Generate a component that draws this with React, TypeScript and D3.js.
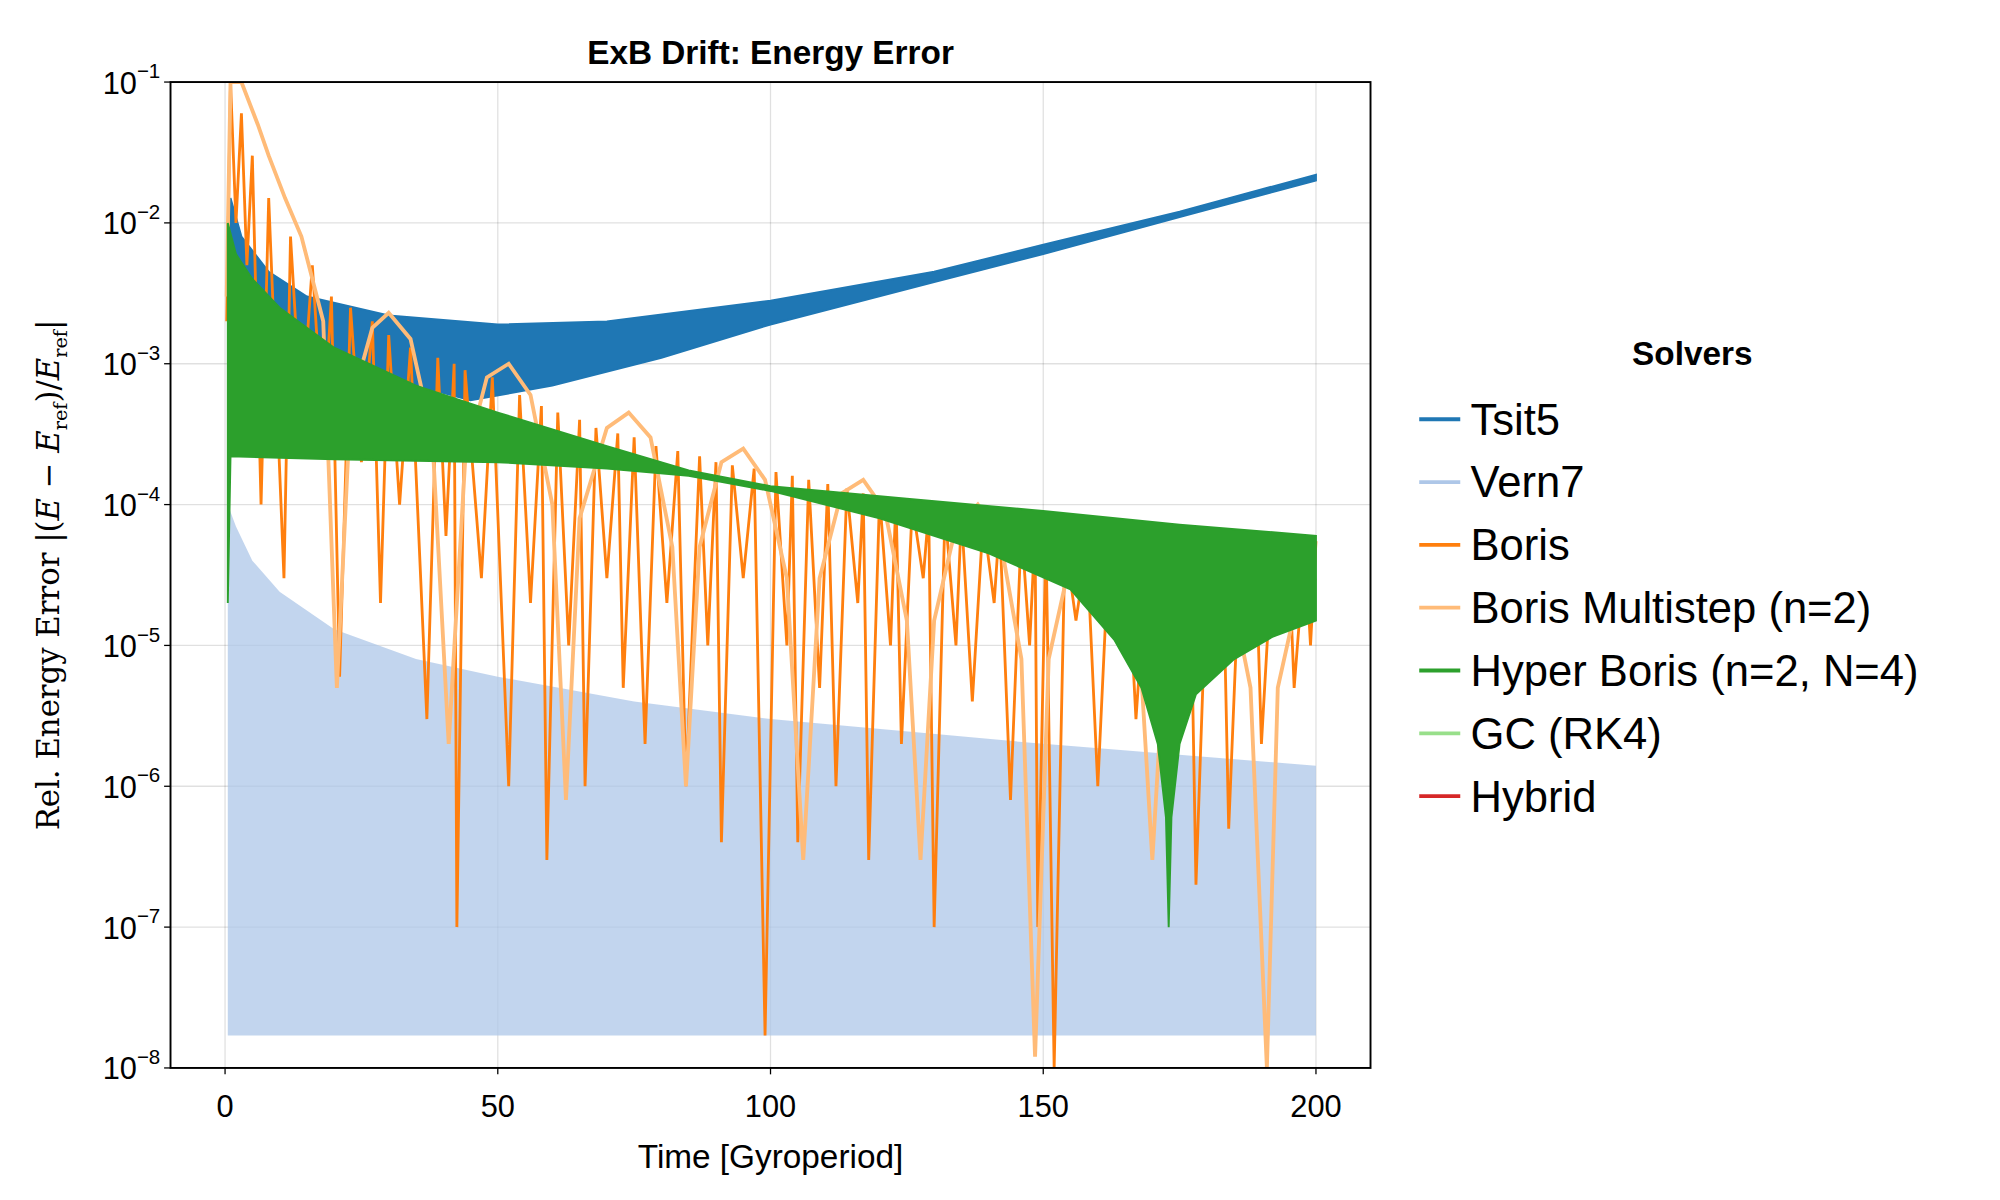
import * as d3 from "d3";

const W = 1560, H = 936;
const M = { left: 133, right: 1069, top: 64, bottom: 833 };

const xTicks = [0, 50, 100, 150, 200];
const yExps = [-1, -2, -3, -4, -5, -6, -7, -8];

const solvers = ["Tsit5", "Vern7", "Boris", "Boris Multistep (n=2)", "Hyper Boris (n=2, N=4)", "GC (RK4)", "Hybrid"];
const colors = ["#1f77b4", "#aec7e8", "#ff7f0e", "#ffbb78", "#2ca02c", "#98df8a", "#d62728"];

// Tsit5 oscillation band (upper / lower envelopes)
const tsitUpper: [number, number][] = [[1, 1.5e-2], [3, 8e-3], [8, 4.5e-3], [15, 3e-3], [30, 2.2e-3], [50, 1.9e-3], [70, 2e-3], [100, 2.8e-3], [130, 4.5e-3], [150, 7e-3], [175, 1.2e-2], [200, 2.2e-2]];
const tsitLower: [number, number][] = [[1, 3e-3], [3, 2e-3], [8, 1.6e-3], [20, 1e-3], [35, 7e-4], [45, 5.5e-4], [60, 7e-4], [80, 1.1e-3], [100, 1.9e-3], [130, 3.8e-3], [150, 6e-3], [175, 1.1e-2], [200, 2e-2]];

// Vern7 band
const vernUpper: [number, number][] = [[0.5, 1e-4], [2, 7e-5], [5, 4e-5], [10, 2.4e-5], [20, 1.3e-5], [35, 8e-6], [50, 6e-6], [75, 4e-6], [100, 3e-6], [150, 2e-6], [200, 1.4e-6]];
const vernLower: [number, number][] = [[0.5, 1.7e-8], [200, 1.7e-8]];

// Hyper Boris band
const hyperUpper: [number, number][] = [[0.5, 1e-2], [2, 6e-3], [5, 4e-3], [10, 2.5e-3], [20, 1.3e-3], [35, 7e-4], [50, 4.5e-4], [70, 2.6e-4], [85, 1.75e-4], [100, 1.35e-4], [125, 1.1e-4], [150, 9e-5], [175, 7.2e-5], [200, 6e-5]];
const hyperLower: [number, number][] = [[0.5, 2e-5], [1, 2.2e-4], [20, 2.1e-4], [50, 2e-4], [70, 1.8e-4], [85, 1.6e-4], [100, 1.25e-4], [120, 8e-5], [140, 4.5e-5], [155, 2.5e-5], [163, 1.1e-5], [168, 5e-6], [171, 2e-6], [172.5, 6e-7], [173, 1e-7], [173.5, 6e-7], [175, 2e-6], [178, 4.5e-6], [185, 8e-6], [192, 1.15e-5], [200, 1.5e-5]];

// Boris: alternating peaks and dips
const borisPts: [number, number][] = [
  [0.3, 2e-3], [1, 1e-1], [2, 1e-2], [3, 6e-2], [4, 5e-3], [5, 3e-2], [6.6, 1e-4], [8, 1.5e-2], [10.8, 3e-5], [12, 8e-3], [14, 4e-4], [16, 5e-3],
  [18, 3e-4], [19.5, 3e-3], [21, 6e-6], [23, 2.5e-3], [25, 2e-4], [27, 2e-3], [28.5, 2e-5], [30, 1.6e-3], [32, 1e-4], [34, 1.3e-3],
  [37, 3e-6], [39, 1.1e-3], [40.5, 6e-5], [42, 1e-3], [42.5, 1e-7], [44, 9e-4], [47, 3e-5], [49, 8e-4], [52, 1e-6], [54, 6e-4],
  [56, 2e-5], [58, 5e-4], [59, 3e-7], [61, 4.5e-4], [63, 1e-5], [65, 4e-4], [66, 1e-6], [68, 3.5e-4], [70, 3e-5], [72, 3.2e-4],
  [73, 5e-6], [75, 3e-4], [77, 2e-6], [79, 2.6e-4], [81, 2e-5], [83, 2.4e-4], [84.5, 1e-6], [87, 2.2e-4], [88.5, 1e-5], [90, 2e-4],
  [91, 4e-7], [93, 1.9e-4], [95, 3e-5], [97, 1.8e-4], [99, 1.7e-8], [101, 1.7e-4], [103, 1e-5], [104, 1.6e-4], [105, 4e-7], [107, 1.5e-4],
  [109, 5e-6], [110.5, 1.4e-4], [112, 1e-6], [114, 1.3e-4], [116, 2e-5], [117, 1.2e-4], [118, 3e-7], [120, 1.15e-4], [122, 1e-5], [123, 1.1e-4],
  [124, 2e-6], [126, 1e-4], [128, 3e-5], [129, 9e-5], [130, 1e-7], [132, 9e-5], [134, 1e-5], [135, 8.5e-5], [137, 4e-6], [139, 8e-5],
  [141, 2e-5], [142, 7.5e-5], [144, 8e-7], [146, 7e-5], [147.5, 1e-5], [148.5, 6.5e-5], [149, 1e-7], [150.5, 6e-5], [152, 1e-8], [154, 5.5e-5],
  [156, 1.5e-5], [158, 5e-5], [160, 1e-6], [162, 4.5e-5], [164, 1e-5], [165.5, 4e-5], [167, 3e-6], [169, 4e-5], [171, 2e-5], [174, 3.5e-5],
  [176, 5e-6], [177, 3.5e-5], [178, 2e-7], [180, 3.5e-5], [182, 1e-5], [183, 3.5e-5], [184, 5e-7], [186, 4e-5], [188, 1e-5], [189, 4e-5],
  [190, 2e-6], [192, 4.5e-5], [194, 1.5e-5], [195, 4.5e-5], [196, 5e-6], [198, 5e-5], [199, 1e-5], [200, 5.5e-5]
];

// Boris Multistep: humps
const multiPts: [number, number][] = [
  [0.3, 3e-3], [1, 1e-1], [3, 1.2e-1], [6, 5e-2], [8, 3e-2], [11, 1.5e-2], [14, 8e-3], [18, 2e-3], [20.5, 5e-6], [23, 5e-4], [27, 1.8e-3],
  [30, 2.3e-3], [34, 1.5e-3], [38, 3e-4], [41, 2e-6], [44, 2e-4], [48, 8e-4], [52, 1e-3], [56, 6e-4], [60, 1e-4], [62.5, 8e-7],
  [65, 8e-5], [70, 3.5e-4], [74, 4.5e-4], [78, 3e-4], [82, 5e-5], [84.5, 1e-6], [87, 5e-5], [91, 2e-4], [95, 2.5e-4], [99, 1.5e-4],
  [103, 3e-5], [106, 3e-7], [109, 3e-5], [113, 1.2e-4], [117, 1.5e-4], [121, 9e-5], [125, 1.5e-5], [127.5, 3e-7], [130, 1.5e-5],
  [134, 7e-5], [138, 1e-4], [142, 6e-5], [146, 8e-6], [148.5, 1.2e-8], [151, 8e-6], [155, 4e-5], [160, 6e-5], [164, 4e-5], [168, 6e-6],
  [170, 3e-7], [172, 6e-6], [176, 3e-5], [180, 4e-5], [184, 3e-5], [188, 5e-6], [191, 1e-8], [193, 5e-6], [197, 2.5e-5], [200, 3e-5]
];

const x = d3.scaleLinear().domain([-10, 210]).range([M.left, M.right]);
const y = d3.scaleLog().domain([1e-8, 1e-1]).range([M.bottom, M.top]).clamp(true);

function band(up: [number, number][], lo: [number, number][]) {
  const a = up.map(([t, v]) => [x(t), y(v)]);
  const b = lo.slice().reverse().map(([t, v]) => [x(t), y(v)]);
  return d3.line()([...a, ...b]) + "Z";
}
const line = d3.line<[number, number]>().x(d => x(d[0])).y(d => y(d[1]));

const sans = "'Liberation Sans', Arial, sans-serif";
const serif = "'DejaVu Serif', 'Liberation Serif', serif";

export default function App() {
  return (
    <svg width={2000} height={1200} viewBox={`0 0 ${W} ${H}`} style={{ position: "absolute", left: 0, top: 0, background: "#fff" }}>
      <defs>
        <clipPath id="plot"><rect x={M.left} y={M.top} width={M.right - M.left} height={M.bottom - M.top} /></clipPath>
      </defs>
      <g stroke="#000" strokeOpacity={0.12} strokeWidth={1}>
        {xTicks.map(t => <line key={t} x1={x(t)} x2={x(t)} y1={M.top} y2={M.bottom} />)}
        {yExps.map(e => <line key={e} x1={M.left} x2={M.right} y1={y(10 ** e)} y2={y(10 ** e)} />)}
      </g>
      <g clipPath="url(#plot)">
        <path d={band(tsitUpper, tsitLower)} fill={colors[0]} stroke={colors[0]} strokeWidth={1.5} />
        <path d={band(vernUpper, vernLower)} fill={colors[1]} fillOpacity={0.75} />
        <path d={line(borisPts)!} fill="none" stroke={colors[2]} strokeWidth={2.2} />
        <path d={line(multiPts)!} fill="none" stroke={colors[3]} strokeWidth={3} />
        <path d={band(hyperUpper, hyperLower)} fill={colors[4]} stroke={colors[4]} strokeWidth={1.5} />
      </g>
      <rect x={M.left} y={M.top} width={M.right - M.left} height={M.bottom - M.top} fill="none" stroke="#000" strokeWidth={1.5} />
      <g fontFamily={sans} fontSize={24} fill="#000">
        {xTicks.map(t => (
          <g key={t}>
            <line x1={x(t)} x2={x(t)} y1={M.bottom} y2={M.bottom + 5} stroke="#000" />
            <text x={x(t)} y={M.bottom + 38} textAnchor="middle">{t}</text>
          </g>
        ))}
        {yExps.map(e => (
          <g key={e}>
            <line x1={M.left - 5} x2={M.left} y1={y(10 ** e)} y2={y(10 ** e)} stroke="#000" />
            <text x={M.left - 8} y={y(10 ** e) + 9} textAnchor="end">
              10<tspan fontSize={16} dy={-12}>{"\u2212" + -e}</tspan>
            </text>
          </g>
        ))}
        <text x={601} y={911} textAnchor="middle" fontSize={26}>Time [Gyroperiod]</text>
        <text x={601} y={50} textAnchor="middle" fontSize={26} fontWeight="bold">ExB Drift: Energy Error</text>
      </g>
      <text transform={`translate(46,${(M.top + M.bottom) / 2}) rotate(-90)`} textAnchor="middle" fontFamily={serif} fontSize={24}>
        Rel. Energy Error |(<tspan fontStyle="italic">E</tspan> − <tspan fontStyle="italic">E</tspan>
        <tspan fontSize={15} dy={6}>ref</tspan><tspan dy={-6}>)/</tspan><tspan fontStyle="italic">E</tspan>
        <tspan fontSize={15} dy={6}>ref</tspan><tspan dy={-6}>|</tspan>
      </text>
      <g fontFamily={sans}>
        <text x={1320} y={285} textAnchor="middle" fontSize={26} fontWeight="bold">Solvers</text>
        {solvers.map((s, i) => (
          <g key={s} transform={`translate(0,${327 + i * 49})`}>
            <line x1={1107} x2={1139} y1={0} y2={0} stroke={colors[i]} strokeWidth={3} />
            <text x={1147} y={12} fontSize={34}>{s}</text>
          </g>
        ))}
      </g>
    </svg>
  );
}
